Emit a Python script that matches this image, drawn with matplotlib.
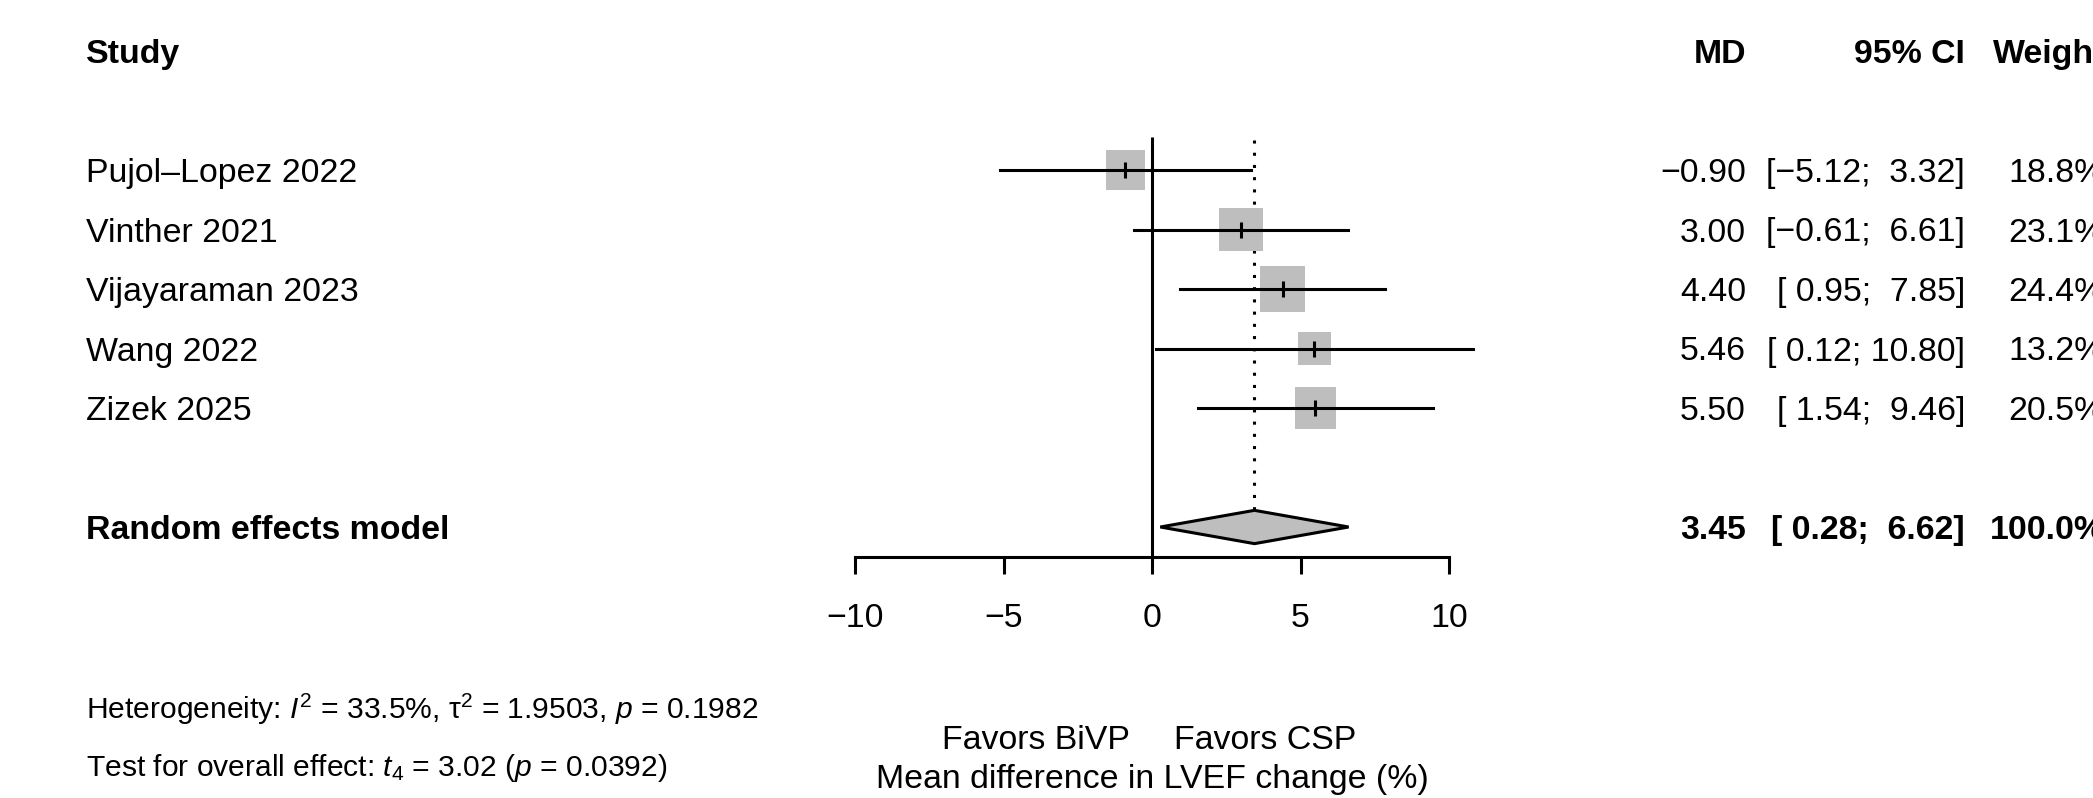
import numpy as np
import matplotlib
matplotlib.use("Agg")
import matplotlib.pyplot as plt
from matplotlib.patches import Rectangle, Polygon
from matplotlib import transforms

plt.rcParams.update({
    "font.family": ["Liberation Sans", "DejaVu Sans"],
    "mathtext.fontset": "custom",
    "mathtext.rm": "Liberation Sans",
    "mathtext.it": "Liberation Sans:italic",
    "mathtext.bf": "Liberation Sans:bold",
    "axes.unicode_minus": True,
})

# data
STUDIES = ["Pujol\u2013Lopez 2022", "Vinther 2021", "Vijayaraman 2023", "Wang 2022", "Zizek 2025"]
MD = [-0.90, 3.00, 4.40, 5.46, 5.50]
LOWER = [-5.12, -0.61, 0.95, 0.12, 1.54]
UPPER = [3.32, 6.61, 7.85, 10.80, 9.46]
WEIGHT = [18.8, 23.1, 24.4, 13.2, 20.5]
POOLED_MD, POOLED_LO, POOLED_HI = 3.45, 0.28, 6.62
TICKS = [-10, -5, 0, 5, 10]
HET_TEXT = "Heterogeneity: $I^2$ = 33.5%, \u03c4$^2$ = 1.9503, $p$ = 0.1982"
TEST_TEXT = r"Test for overall effect: $t_4$ = 3.02 ($p$ = 0.0392)"
LABEL_LEFT = "Favors BiVP"
LABEL_RIGHT = "Favors CSP"
XLABEL = "Mean difference in LVEF change (%)"

# layout (pixels of the 2093x798 output)
W, H, DPI = 2093, 798, 200
PX_X = 29.7        # px per unit on the effect axis
X0_PX = 1152       # px position of 0
ROW_PX = 59.5      # px per row
ROW0_PX = 51       # px position of header row
FS = 12.2
FS_SMALL = 10.8
GREY = "#BEBEBE"
VA = "center_baseline"
LW = 1.1

fig = plt.figure(figsize=(W / DPI, H / DPI), dpi=DPI)
ax = fig.add_axes([0, 0, 1, 1])
ax.set_xlim(-X0_PX / PX_X, (W - X0_PX) / PX_X)
ax.set_ylim((H - ROW0_PX) / ROW_PX, -ROW0_PX / ROW_PX)

# axis at the bottom of the forest
for s in ["top", "right", "left"]:
    ax.spines[s].set_visible(False)
ax.spines["bottom"].set_position(("data", 8.5))
ax.spines["bottom"].set_bounds(TICKS[0], TICKS[-1])
ax.spines["bottom"].set_linewidth(LW)
ax.set_xticks(TICKS)
ax.set_xticklabels([f"{t}".replace("-", "\u2212") for t in TICKS], fontsize=FS)
ax.tick_params(axis="x", direction="out", length=6.1, width=LW, pad=10.5)
ax.set_yticks([])
ax.patch.set_visible(False)

rows = np.arange(2, 2 + len(STUDIES))
pooled_row = rows[-1] + 2

# reference lines
ax.vlines(0, 1.45, 8.5, color="black", lw=LW, zorder=1)
half_h = 0.28
ax.vlines(POOLED_MD, 1.5, pooled_row - half_h, color="black", lw=LW,
          linestyles=(0, (1, 3)), zorder=1)

# squares + CI lines
k = 9.11  # px per sqrt(weight)
for r, m, lo, hi, w in zip(rows, MD, LOWER, UPPER, WEIGHT):
    side = k * np.sqrt(w)
    wd, ht = side / PX_X, side / ROW_PX
    ax.add_patch(Rectangle((m - wd / 2, r - ht / 2), wd, ht, facecolor=GREY,
                           edgecolor="none", zorder=2))
    ax.plot([lo, hi], [r, r], color="black", lw=LW, zorder=3)
    ax.plot([m], [r], marker="|", color="black", ms=6, mew=LW, zorder=4)

# pooled diamond
ax.add_patch(Polygon([(POOLED_LO, pooled_row), (POOLED_MD, pooled_row - half_h),
                      (POOLED_HI, pooled_row), (POOLED_MD, pooled_row + half_h)],
                     closed=True, facecolor=GREY, edgecolor="black", lw=LW, zorder=3))

# text columns
tr = transforms.blended_transform_factory(fig.transFigure, ax.transData)
X_STUDY = 86 / W
X_MD = 1746 / W
X_CI = 1965 / W
X_WT = 2105 / W

def fnum(v):
    return f"{v:.2f}".replace("-", "\u2212")

def fci(lo, hi):
    return f"[{lo:5.2f}; {hi:5.2f}]".replace("-", "\u2212")

ax.text(X_STUDY, 0, "Study", transform=tr, ha="left", va=VA, fontsize=FS, fontweight="bold")
ax.text(X_MD, 0, "MD", transform=tr, ha="right", va=VA, fontsize=FS, fontweight="bold")
ax.text(X_CI, 0, "95% CI", transform=tr, ha="right", va=VA, fontsize=FS, fontweight="bold")
ax.text(X_WT, 0, "Weight", transform=tr, ha="right", va=VA, fontsize=FS, fontweight="bold")

for r, name, m, lo, hi, w in zip(rows, STUDIES, MD, LOWER, UPPER, WEIGHT):
    ax.text(X_STUDY, r, name, transform=tr, ha="left", va=VA, fontsize=FS)
    ax.text(X_MD, r, fnum(m), transform=tr, ha="right", va=VA, fontsize=FS)
    ax.text(X_CI, r, fci(lo, hi), transform=tr, ha="right", va=VA, fontsize=FS)
    ax.text(X_WT, r, f"{w:.1f}%", transform=tr, ha="right", va=VA, fontsize=FS)

ax.text(X_STUDY, pooled_row, "Random effects model", transform=tr, ha="left", va=VA,
        fontsize=FS, fontweight="bold")
ax.text(X_MD, pooled_row, fnum(POOLED_MD), transform=tr, ha="right", va=VA,
        fontsize=FS, fontweight="bold")
ax.text(X_CI, pooled_row, fci(POOLED_LO, POOLED_HI), transform=tr, ha="right", va=VA,
        fontsize=FS, fontweight="bold")
ax.text(X_WT, pooled_row, f"{sum(WEIGHT):.1f}%", transform=tr, ha="right", va=VA,
        fontsize=FS, fontweight="bold")

# footer
ax.text(X_STUDY, 11.0, HET_TEXT, transform=tr, ha="left", va=VA, fontsize=FS_SMALL)
ax.text(X_STUDY, 11.98, TEST_TEXT, transform=tr, ha="left", va=VA, fontsize=FS_SMALL)
ax.text(-0.75, 11.53, LABEL_LEFT, ha="right", va=VA, fontsize=FS)
ax.text(0.75, 11.53, LABEL_RIGHT, ha="left", va=VA, fontsize=FS)
ax.text(0, 12.18, XLABEL, ha="center", va=VA, fontsize=FS)

fig.savefig("out.png", dpi=DPI)
